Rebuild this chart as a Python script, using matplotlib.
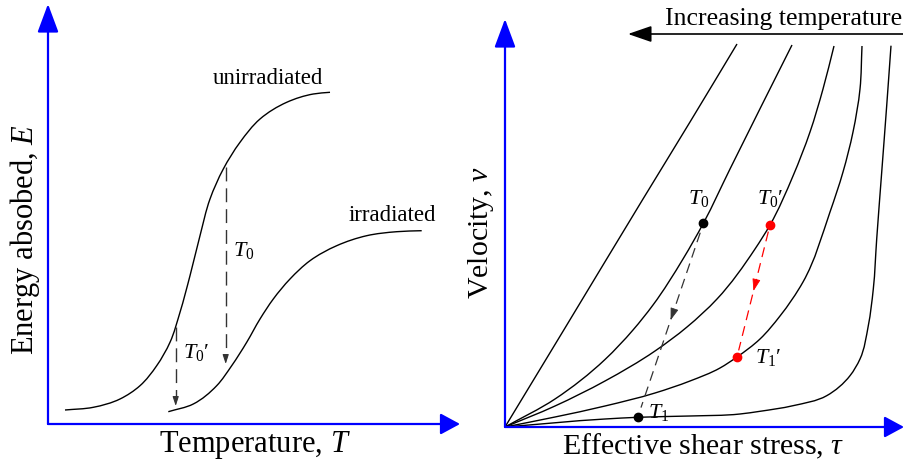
import numpy as np
import matplotlib.pyplot as plt
from matplotlib.path import Path
from matplotlib.patches import PathPatch

plt.rcParams['font.family'] = ['Liberation Serif', 'DejaVu Serif']
plt.rcParams['mathtext.fontset'] = 'custom'
plt.rcParams['mathtext.rm'] = 'Liberation Serif'
plt.rcParams['mathtext.it'] = 'Liberation Serif:italic'

# Left panel: energy absorbed vs temperature (schematic)
temp_unirr = [17, 45.3, 72, 92, 108.7, 122, 132, 142, 152, 162, 175.3, 192, 212, 238.7, 265.3, 282]
energy_unirr = [14, 16.7, 25, 38.3, 58.3, 81.7, 111.7, 148.3, 188.3, 225, 255, 281.7, 305, 321.7, 330, 331.7]
temp_irr = [120.3, 145.3, 168.7, 183.7, 198.7, 212, 225.3, 242, 262, 288.7, 318.7, 348.7, 373.7]
energy_irr = [12.3, 20, 38.3, 58.3, 81.7, 105, 125, 145, 163.3, 178.3, 188.3, 192.3, 193.3]

# dashed drops (T, E_top, E_bottom)
drop_T0 = (177.7, 257, 60)
drop_T0p = (127.7, 97, 18)

# Right panel: velocity vs effective shear stress, five temperatures
tau_curves = [
    [0, 60, 138, 185, 232],
    [0, 50, 100, 128, 148, 178, 198.5, 225, 287],
    [0, 50, 100, 150, 182, 212, 250, 265, 288, 305, 318, 329],
    [0, 50, 100, 150, 185, 215, 232, 255, 275, 298, 325, 338, 348, 355, 357],
    [0, 100, 132.7, 185, 235, 255, 288, 321.7, 345, 355, 363.3, 368.3, 371.7, 376.7, 381.7, 386],
]
vel_curves = [
    [0, 99, 228, 305, 383],
    [0, 28, 67.5, 97, 122, 168, 204, 258, 382],
    [0, 21, 46, 76, 100, 128, 178, 202, 251, 295, 338, 381],
    [0, 10, 21, 34, 46, 59, 70, 88, 111, 145, 215, 255, 295, 338, 381],
    [0, 8, 9.7, 11, 13, 15.7, 21.3, 31.3, 51.3, 68, 101.3, 138, 188, 254.7, 321.3, 381.3],
]

# state points (tau, v)
pt_T0 = (198.5, 204)
pt_T1 = (132.7, 9.7)
pt_T0p = (265, 202)
pt_T1p = (232, 70)


def smooth_curve(ax, x, y, **kw):
    # smooth Bezier path through the read points (Bessel tangents)
    pts = np.column_stack([x, y]).astype(float)
    seg = np.diff(pts, axis=0)
    L = np.hypot(seg[:, 0], seg[:, 1])
    u = seg / L[:, None]
    n = len(pts)
    tan = np.zeros_like(pts)
    tan[0] = u[0]
    tan[-1] = u[-1]
    for i in range(1, n - 1):
        t = L[i] * u[i - 1] + L[i - 1] * u[i]
        tan[i] = t / np.hypot(*t)
    verts = [pts[0]]
    codes = [Path.MOVETO]
    for i in range(n - 1):
        verts += [pts[i] + tan[i] * L[i] / 3, pts[i + 1] - tan[i + 1] * L[i] / 3, pts[i + 1]]
        codes += [Path.CURVE4] * 3
    ax.add_patch(PathPatch(Path(verts, codes), fill=False, **kw))


fig = plt.figure(figsize=(9.04, 4.64), dpi=100)

# ---------------- left panel ----------------
ax1 = fig.add_axes([48 / 904, 39 / 464, 412 / 904, 420 / 464])
ax1.set_xlim(0, 412)
ax1.set_ylim(0, 420)
ax1.axis('off')

smooth_curve(ax1, temp_unirr, energy_unirr, color='black', lw=1.0)
smooth_curve(ax1, temp_irr, energy_irr, color='black', lw=1.0)

for T, e_top, e_bot in [drop_T0, drop_T0p]:
    ax1.plot([T, T], [e_top, e_bot + 6], color='#333333', lw=1.0, ls=(0, (10, 5)))
    ax1.annotate('', xy=(T, e_bot), xytext=(T, e_bot + 8),
                 arrowprops=dict(arrowstyle='-|>,head_length=0.55,head_width=0.18',
                                 color='#333333', lw=0.8, shrinkA=0, shrinkB=0))

ax1.text(220, 346, 'unirradiated', fontsize=16.5, ha='center', va='center')
ax1.text(344, 209, 'irradiated', fontsize=16.5, ha='center', va='center')
ax1.text(196, 174, r'$T_{\mathit{0}}$', fontsize=16, ha='center', va='center')
ax1.text(148, 72, r'$T_{\mathit{0}}$' + '\u2032', fontsize=16, ha='center', va='center')

ax1.text(-23, 186, 'Energy absobed, $E$', fontsize=22, rotation=90,
         ha='center', va='center')
ax1.text(207, -20, 'Temperature, $T$', fontsize=22, ha='center', va='center')

# axes arrows
ax1.annotate('', xy=(0, 420), xytext=(0, 0), annotation_clip=False,
             arrowprops=dict(arrowstyle='-|>,head_length=1.75,head_width=0.65',
                             color='blue', lw=1.6, shrinkA=0, shrinkB=0))
ax1.annotate('', xy=(412, 0), xytext=(0, 0), annotation_clip=False,
             arrowprops=dict(arrowstyle='-|>,head_length=1.2,head_width=0.65',
                             color='blue', lw=1.6, shrinkA=0, shrinkB=0))

# ---------------- right panel ----------------
ax2 = fig.add_axes([505 / 904, 36 / 464, 399 / 904, 408 / 464])
ax2.set_xlim(0, 399)
ax2.set_ylim(0, 408)
ax2.axis('off')

for tx, vy in zip(tau_curves, vel_curves):
    smooth_curve(ax2, tx, vy, color='black', lw=1.0)


def dashed_path(ax, p0, p1, color):
    p0 = np.array(p0)
    p1 = np.array(p1)
    d = p1 - p0
    a = p0 + 0.05 * d
    b = p0 + 0.95 * d
    ax.plot([a[0], b[0]], [a[1], b[1]], color=color, lw=0.9, ls=(0, (8, 5)))
    m = p0 + 0.5 * d
    u = d / np.hypot(*d)
    ax.annotate('', xy=m, xytext=m - 10 * u,
                arrowprops=dict(arrowstyle='-|>,head_length=0.75,head_width=0.25',
                                color=color, lw=0.6, shrinkA=0, shrinkB=0))


dashed_path(ax2, pt_T0, pt_T1, '#333333')
dashed_path(ax2, pt_T0p, pt_T1p, 'red')

ax2.plot(*pt_T0, 'o', color='black', ms=6)
ax2.plot(*pt_T1, 'o', color='black', ms=6)
ax2.plot(*pt_T0p, 'o', color='red', ms=6)
ax2.plot(*pt_T1p, 'o', color='red', ms=6)

ax2.text(194, 229, r'$T_{\mathit{0}}$', fontsize=16, ha='center', va='center')
ax2.text(265, 229, r'$T_{\mathit{0}}$' + '\u2032', fontsize=16, ha='center', va='center')
ax2.text(263, 70, r'$T_{\mathit{1}}$' + '\u2032', fontsize=16, ha='center', va='center')
ax2.text(154, 15, r'$T_{\mathit{1}}$', fontsize=16, ha='center', va='center')

ax2.text(-24, 196, 'Velocity, $v$', fontsize=21.5, rotation=90, ha='center', va='center')
ax2.text(198, -18, r'Effective shear stress, $\tau$', fontsize=21.5, ha='center', va='center')

ax2.text(160, 403, 'Increasing temperature', fontsize=18.5, ha='left', va='baseline')
ax2.annotate('', xy=(123, 393), xytext=(420, 393), annotation_clip=False,
             arrowprops=dict(arrowstyle='-|>,head_length=1.45,head_width=0.5',
                             color='black', lw=1.2, shrinkA=0, shrinkB=0))

ax2.annotate('', xy=(0, 408), xytext=(0, 0), annotation_clip=False,
             arrowprops=dict(arrowstyle='-|>,head_length=1.75,head_width=0.65',
                             color='blue', lw=1.6, shrinkA=0, shrinkB=0))
ax2.annotate('', xy=(399, 0), xytext=(0, 0), annotation_clip=False,
             arrowprops=dict(arrowstyle='-|>,head_length=1.2,head_width=0.65',
                             color='blue', lw=1.6, shrinkA=0, shrinkB=0))

fig.savefig('out.png', dpi=100)
